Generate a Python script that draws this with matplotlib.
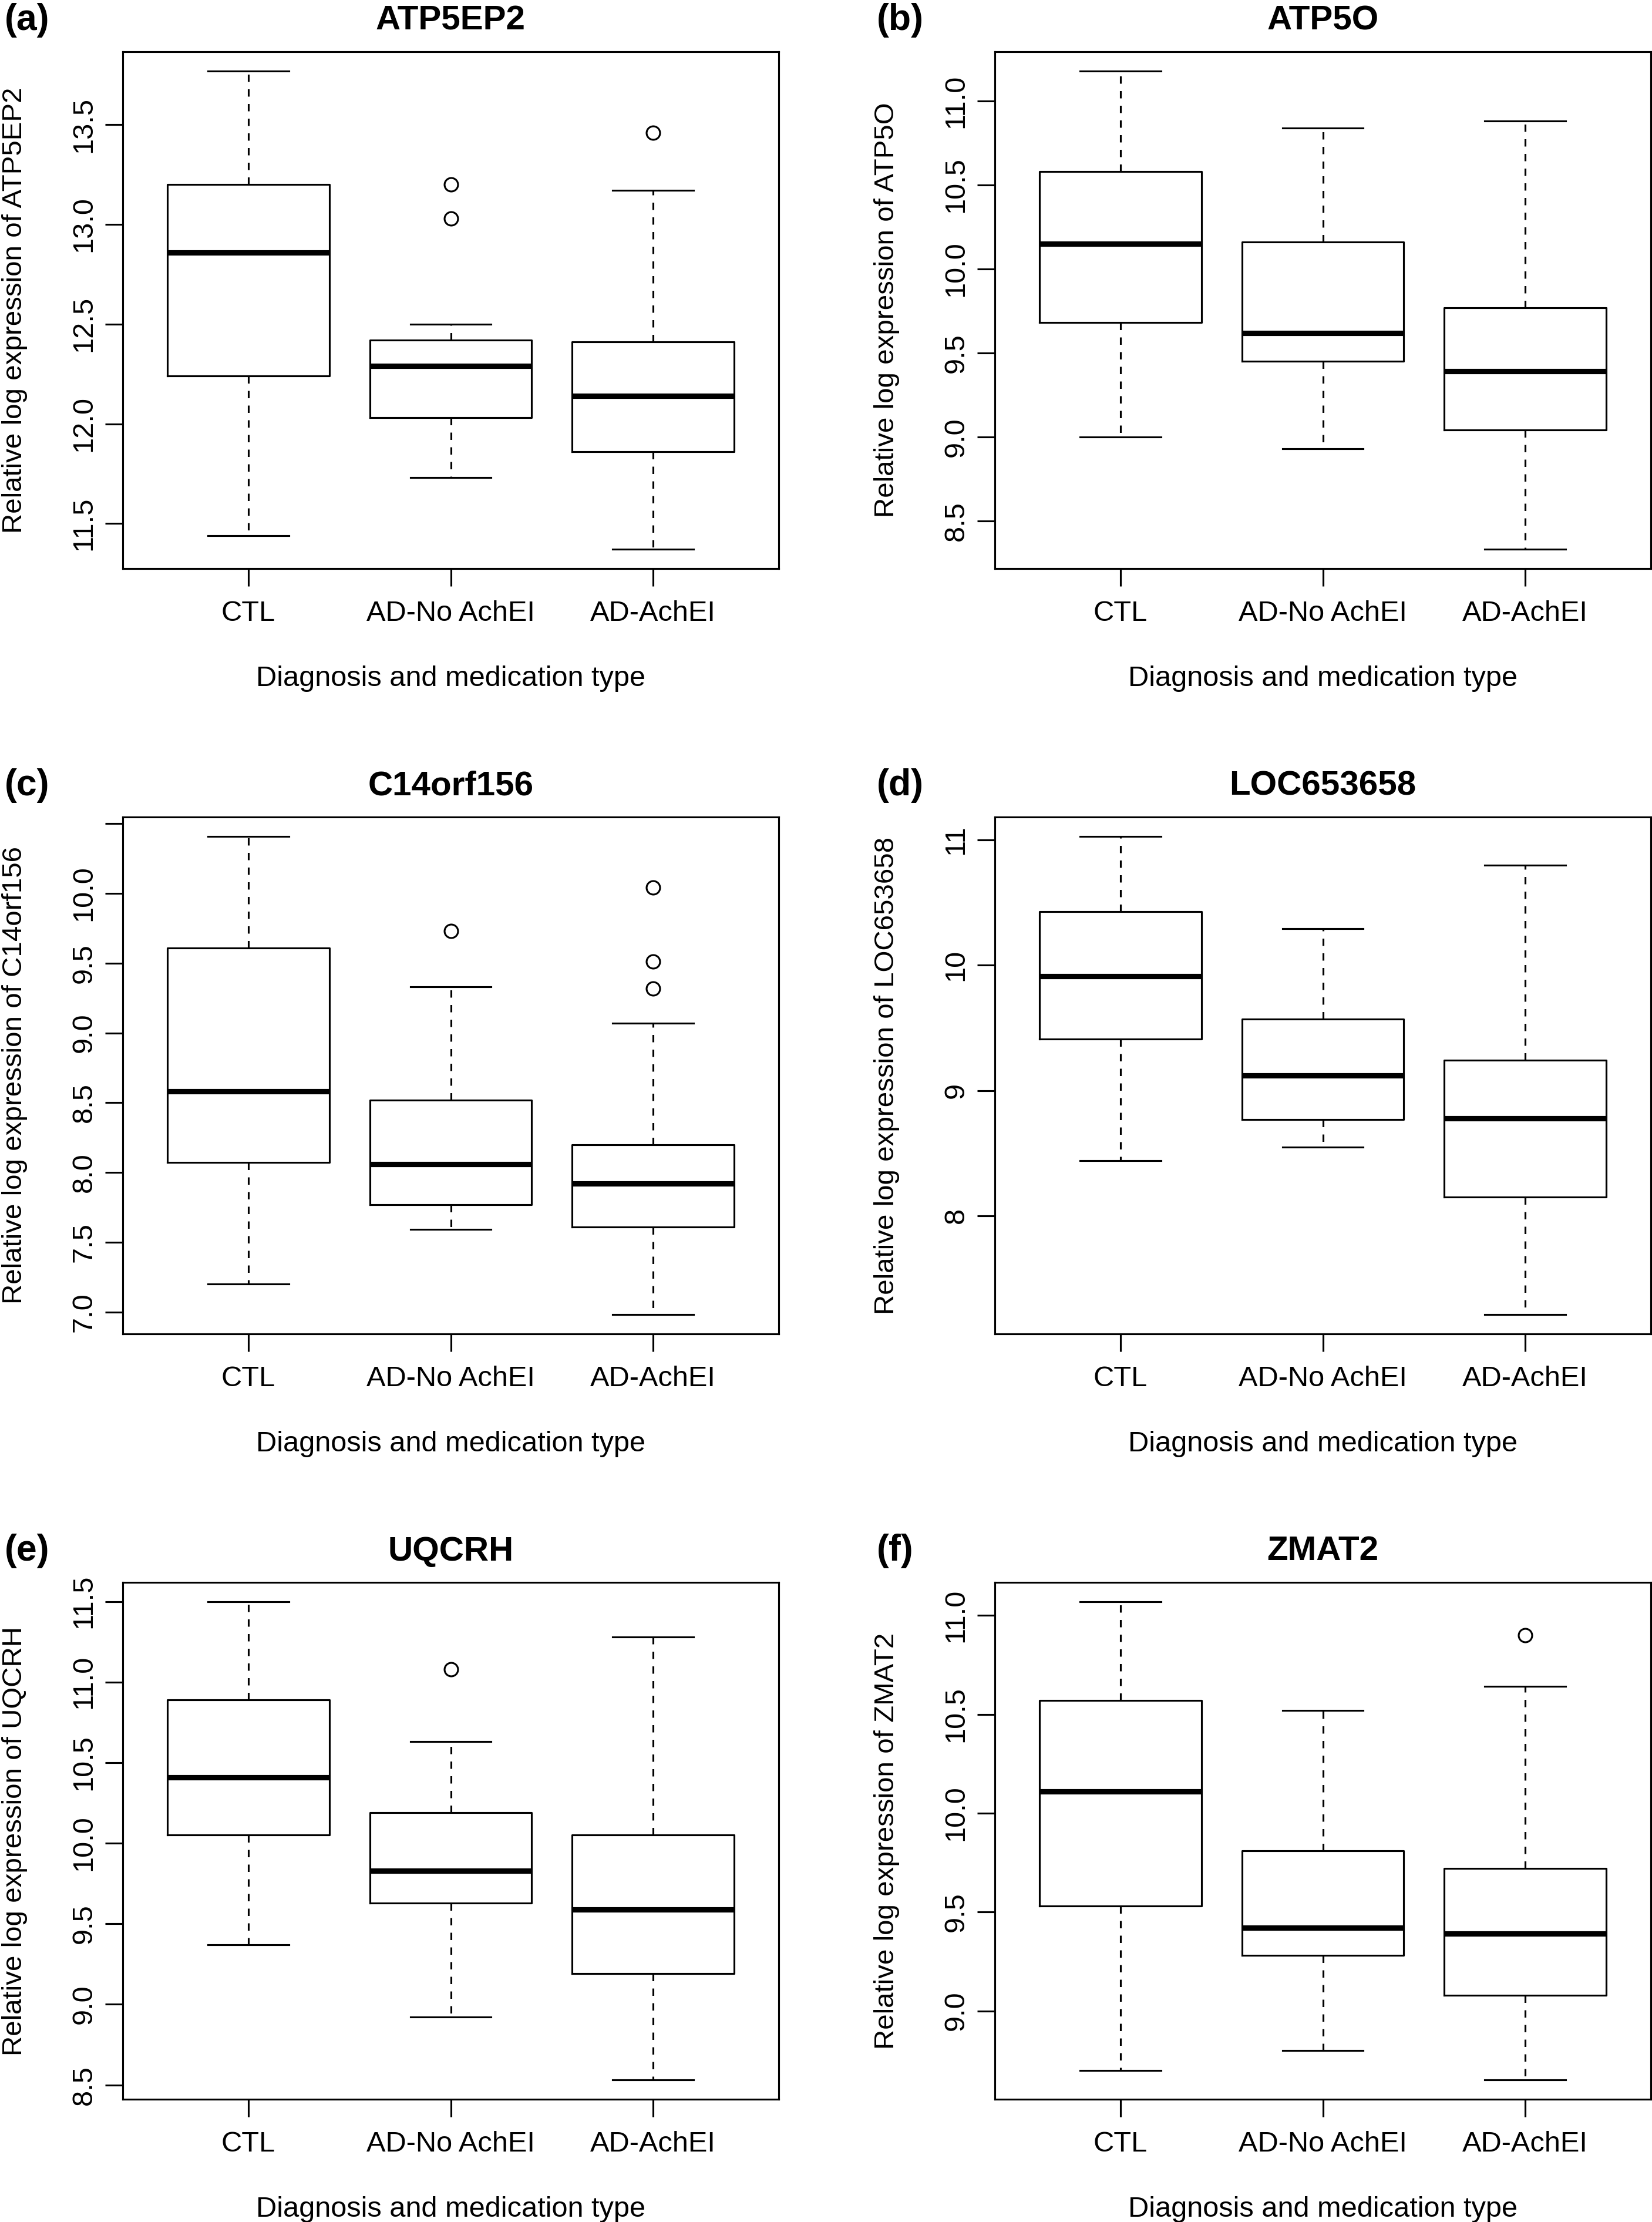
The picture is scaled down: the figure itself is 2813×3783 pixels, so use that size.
import numpy as np
import matplotlib
matplotlib.use("Agg")
import matplotlib.pyplot as plt

plt.rcParams["font.family"] = ["Liberation Sans", "DejaVu Sans"]

GROUPS = ["CTL", "AD-No AchEI", "AD-AchEI"]
XLABEL = "Diagnosis and medication type"

# (a) ATP5EP2
atp5ep2_whislo = [11.44, 11.73, 11.37]
atp5ep2_q1 = [12.24, 12.03, 11.86]
atp5ep2_med = [12.86, 12.29, 12.14]
atp5ep2_q3 = [13.20, 12.42, 12.41]
atp5ep2_whishi = [13.77, 12.50, 13.17]
atp5ep2_fliers = [[], [13.20, 13.03], [13.46]]
atp5ep2_ticks = [11.5, 12.0, 12.5, 13.0, 13.5]
atp5ep2_ticklabels = ["11.5", "12.0", "12.5", "13.0", "13.5"]

# (b) ATP5O
atp5o_whislo = [9.00, 8.93, 8.33]
atp5o_q1 = [9.68, 9.45, 9.04]
atp5o_med = [10.15, 9.62, 9.39]
atp5o_q3 = [10.58, 10.16, 9.77]
atp5o_whishi = [11.18, 10.84, 10.88]
atp5o_fliers = [[], [], []]
atp5o_ticks = [8.5, 9.0, 9.5, 10.0, 10.5, 11.0]
atp5o_ticklabels = ["8.5", "9.0", "9.5", "10.0", "10.5", "11.0"]

# (c) C14orf156
c14_whislo = [7.20, 7.59, 6.98]
c14_q1 = [8.07, 7.77, 7.61]
c14_med = [8.58, 8.06, 7.92]
c14_q3 = [9.61, 8.52, 8.20]
c14_whishi = [10.41, 9.33, 9.07]
c14_fliers = [[], [9.73], [10.04, 9.51, 9.32]]
c14_ticks = [7.0, 7.5, 8.0, 8.5, 9.0, 9.5, 10.0, 10.5]
c14_ticklabels = ["7.0", "7.5", "8.0", "8.5", "9.0", "9.5", "10.0", ""]

# (d) LOC653658
loc_whislo = [8.44, 8.55, 7.21]
loc_q1 = [9.41, 8.77, 8.15]
loc_med = [9.91, 9.12, 8.78]
loc_q3 = [10.43, 9.57, 9.24]
loc_whishi = [11.03, 10.29, 10.80]
loc_fliers = [[], [], []]
loc_ticks = [8, 9, 10, 11]
loc_ticklabels = ["8", "9", "10", "11"]

# (e) UQCRH
uqcrh_whislo = [9.37, 8.92, 8.53]
uqcrh_q1 = [10.05, 9.63, 9.19]
uqcrh_med = [10.41, 9.83, 9.59]
uqcrh_q3 = [10.89, 10.19, 10.05]
uqcrh_whishi = [11.50, 10.63, 11.28]
uqcrh_fliers = [[], [11.08], []]
uqcrh_ticks = [8.5, 9.0, 9.5, 10.0, 10.5, 11.0, 11.5]
uqcrh_ticklabels = ["8.5", "9.0", "9.5", "10.0", "10.5", "11.0", "11.5"]

# (f) ZMAT2
zmat2_whislo = [8.70, 8.80, 8.65]
zmat2_q1 = [9.53, 9.28, 9.08]
zmat2_med = [10.11, 9.42, 9.39]
zmat2_q3 = [10.57, 9.81, 9.72]
zmat2_whishi = [11.07, 10.52, 10.64]
zmat2_fliers = [[], [], [10.90]]
zmat2_ticks = [9.0, 9.5, 10.0, 10.5, 11.0]
zmat2_ticklabels = ["9.0", "9.5", "10.0", "10.5", "11.0"]

PANELS = [
    ("(a)", "ATP5EP2", atp5ep2_whislo, atp5ep2_q1, atp5ep2_med, atp5ep2_q3,
     atp5ep2_whishi, atp5ep2_fliers, atp5ep2_ticks, atp5ep2_ticklabels),
    ("(b)", "ATP5O", atp5o_whislo, atp5o_q1, atp5o_med, atp5o_q3,
     atp5o_whishi, atp5o_fliers, atp5o_ticks, atp5o_ticklabels),
    ("(c)", "C14orf156", c14_whislo, c14_q1, c14_med, c14_q3,
     c14_whishi, c14_fliers, c14_ticks, c14_ticklabels),
    ("(d)", "LOC653658", loc_whislo, loc_q1, loc_med, loc_q3,
     loc_whishi, loc_fliers, loc_ticks, loc_ticklabels),
    ("(e)", "UQCRH", uqcrh_whislo, uqcrh_q1, uqcrh_med, uqcrh_q3,
     uqcrh_whishi, uqcrh_fliers, uqcrh_ticks, uqcrh_ticklabels),
    ("(f)", "ZMAT2", zmat2_whislo, zmat2_q1, zmat2_med, zmat2_q3,
     zmat2_whishi, zmat2_fliers, zmat2_ticks, zmat2_ticklabels),
]

W, H = 2813, 3783
fig = plt.figure(figsize=(W / 300, H / 300), dpi=300)

# axes box layout in pixels
col_left = [209, 1694]
row_top = [88, 1391, 2694]
box_w, box_h = 1117, 880

LW = 0.75
FS = 11.7


def draw_panel(ax, tag, gene, whislo, q1, med, q3, whishi, fliers, ticks, ticklabels):
    stats = []
    for i in range(len(GROUPS)):
        stats.append({
            "whislo": whislo[i], "q1": q1[i], "med": med[i], "q3": q3[i],
            "whishi": whishi[i], "fliers": fliers[i],
        })
    ax.bxp(
        stats, positions=[1, 2, 3], widths=0.8, capwidths=0.4,
        showfliers=True,
        boxprops=dict(color="black", linewidth=LW),
        whiskerprops=dict(color="black", linewidth=LW, linestyle=(0, (4, 4))),
        capprops=dict(color="black", linewidth=LW),
        medianprops=dict(color="black", linewidth=2.2, solid_capstyle="butt"),
        flierprops=dict(marker="o", markerfacecolor="none", markeredgecolor="black",
                        markersize=5.5, markeredgewidth=LW, linestyle="none"),
    )
    allv = whislo + whishi + [v for f in fliers for v in f]
    lo, hi = min(allv), max(allv)
    pad = 0.04 * (hi - lo)
    ax.set_ylim(lo - pad, hi + pad)
    ax.set_xlim(0.38, 3.62)
    ax.set_xticks([1, 2, 3])
    ax.set_xticklabels(GROUPS)
    ax.set_yticks(ticks)
    ax.set_yticklabels(ticklabels, rotation=90, va="center")
    ax.tick_params(axis="both", direction="out", length=7.2, width=LW,
                   labelsize=FS, color="black")
    ax.tick_params(axis="x", pad=5.8)
    ax.tick_params(axis="y", pad=3.2)
    for s in ax.spines.values():
        s.set_linewidth(LW)
    ax.set_title(gene, fontsize=14, fontweight="bold", pad=9)
    ax.set_xlabel(XLABEL, fontsize=FS)
    ax.set_ylabel("Relative log expression of " + gene, fontsize=11.4)
    ax.xaxis.set_label_coords(0.5, -(1133 - 968) / box_h)
    ax.yaxis.set_label_coords(-162 / box_w, 0.5)
    ax.text(-201 / box_w, 1 + 37 / box_h, tag, transform=ax.transAxes,
            fontsize=15, fontweight="bold", ha="left", va="baseline")


for k, panel in enumerate(PANELS):
    r, c = divmod(k, 2)
    left = col_left[c] / W
    bottom = 1 - (row_top[r] + box_h) / H
    ax = fig.add_axes([left, bottom, box_w / W, box_h / H])
    draw_panel(ax, *panel)

fig.savefig("out.png", dpi=300)
